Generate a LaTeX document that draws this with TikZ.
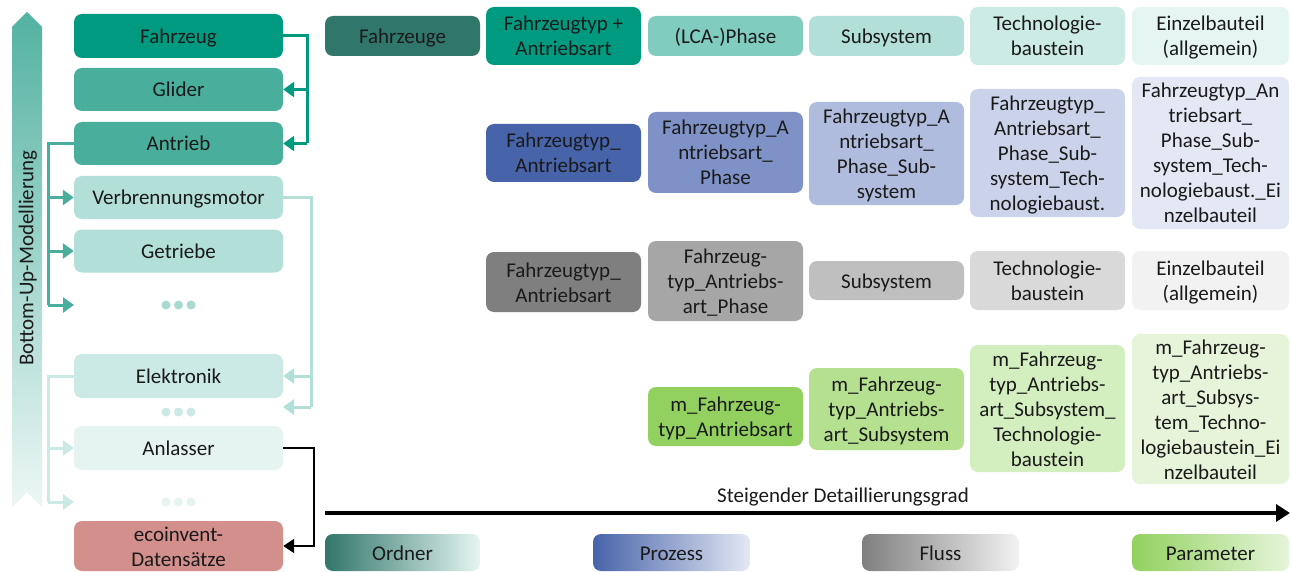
\documentclass[tikz,border=0pt]{standalone}
\usepackage{fontspec}
\setmainfont{Carlito}
\usetikzlibrary{arrows.meta}
\definecolor{cFz}{HTML}{009A80}
\definecolor{cGl}{HTML}{4AAE9C}
\definecolor{cVb}{HTML}{B2DFD7}
\definecolor{cEl}{HTML}{CCEAE5}
\definecolor{cAn}{HTML}{E5F4F1}
\definecolor{cEco}{HTML}{D28F8C}
\definecolor{oA}{HTML}{31766A}
\definecolor{oB}{HTML}{009A80}
\definecolor{oC}{HTML}{80CCBF}
\definecolor{oD}{HTML}{B2E0D8}
\definecolor{oE}{HTML}{CCEBE5}
\definecolor{oF}{HTML}{E5F5F2}
\definecolor{pB}{HTML}{4763A9}
\definecolor{pC}{HTML}{7F92C7}
\definecolor{pD}{HTML}{B0BCDD}
\definecolor{pE}{HTML}{CBD3EA}
\definecolor{pF}{HTML}{E4E8F4}
\definecolor{fB}{HTML}{7F7F7F}
\definecolor{fC}{HTML}{A6A6A6}
\definecolor{fD}{HTML}{BFBFBF}
\definecolor{fE}{HTML}{D9D9D9}
\definecolor{fF}{HTML}{F2F2F2}
\definecolor{mC}{HTML}{92D15F}
\definecolor{mD}{HTML}{B5E08F}
\definecolor{mE}{HTML}{D3EEBF}
\definecolor{mF}{HTML}{E6F5DA}
\definecolor{txt}{HTML}{1A1A1A}
\newcommand\bt[1]{\raisebox{-2.5pt}[\height][\depth]{\def\arraystretch{1}\begin{tabular}{@{}c@{}}#1\end{tabular}}}
\tikzset{
  box/.style={rectangle, rounded corners=8pt, draw=none, inner sep=0pt,
    text=txt, font=\fontsize{21}{25}\selectfont, minimum width=155pt},
  lbox/.style={box, minimum width=209pt},
  conn/.style={line width=3pt},
  tip/.style={-{Triangle[length=11pt,width=15pt]}},
  dotc/.style={circle, inner sep=0pt, minimum size=9pt},
}
\begin{document}
\begin{tikzpicture}[x=1pt,y=-1pt]
\useasboundingbox (0,0) rectangle (1292,572);
% vertical band
\shade[top color=cGl!95, bottom color=cAn!70] (12,27) -- (27,12) -- (42,27) -- (42,507) -- (27,492) -- (12,507) -- cycle;
\node[rotate=90, text=txt, font=\fontsize{21}{25}\selectfont] (bu) at (28,258) {Bottom-Up-Modellierung};
% left column
\node[lbox, fill=cFz, minimum height=44pt] (fz) at (178.5,36) {\bt{Fahrzeug}};
\node[lbox, fill=cGl, minimum height=43pt] (gl) at (178.5,89.5) {\bt{Glider}};
\node[lbox, fill=cGl, minimum height=43pt] (an) at (178.5,143.5) {\bt{Antrieb}};
\node[lbox, fill=cVb, minimum height=43pt] (vb) at (178.5,197.5) {\bt{Verbrennungsmotor}};
\node[lbox, fill=cVb, minimum height=43pt] (gt) at (178.5,251) {\bt{Getriebe}};
\node[lbox, fill=cEl, minimum height=44pt] (el) at (178.5,376) {\bt{Elektronik}};
\node[lbox, fill=cAn, minimum height=44pt] (al) at (178.5,448) {\bt{Anlasser}};
\node[lbox, fill=cEco, minimum height=44pt] (eco) at (178.5,546) {\bt{ecoinvent-\\Datensätze}};
% dots
\foreach \x in {166,178.5,191}{
  \node[dotc, fill=cVb!90!cGl] at (\x,305) {};
  \node[dotc, fill=cEl] at (\x,412) {};
  \node[dotc, fill=cAn] at (\x,502) {};
}
\coordinate (d1) at (74,305);
\coordinate (d2) at (283,407);
\coordinate (d3) at (74,502);
\coordinate (j1) at (307,0);
\coordinate (j2) at (48,0);
\coordinate (j3) at (311,0);
\coordinate (j4) at (48,0);
\coordinate (j5) at (314,0);
% connectors
\draw[conn, cFz] (fz.east) -| (j1 |- an.east);
\draw[conn, cFz, tip] (j1 |- gl.east) -- (gl.east);
\draw[conn, cFz, tip] (j1 |- an.east) -- (an.east);
\draw[conn, cGl] (an.west) -| (j2 |- d1);
\draw[conn, cGl, tip] (j2 |- vb.west) -- (vb.west);
\draw[conn, cGl, tip] (j2 |- gt.west) -- (gt.west);
\draw[conn, cGl, tip] (j2 |- d1) -- (d1);
\draw[conn, cVb] (vb.east) -| (j3 |- d2);
\draw[conn, cVb, tip] (j3 |- el.east) -- (el.east);
\draw[conn, cVb, tip] (j3 |- d2) -- (d2);
\draw[conn, cEl] (el.west) -| (j4 |- d3);
\draw[conn, cEl, tip] (j4 |- al.west) -- (al.west);
\draw[conn, cEl, tip] (j4 |- d3) -- (d3);
\draw[line width=2pt, black, -{Triangle[length=11pt,width=14pt]}] (al.east) -| (j5 |- eco.east) -- (eco.east);
% row 1 Ordner
\node[box, fill=oA, minimum height=40pt] (o1) at (402.5,36) {\bt{Fahrzeuge}};
\node[box, fill=oB, minimum height=58pt] (o2) at (563.5,36) {\bt{Fahrzeugtyp +\\Antriebsart}};
\node[box, fill=oC, minimum height=40pt] (o3) at (725.5,36) {\bt{(LCA-)Phase}};
\node[box, fill=oD, minimum height=40pt] (o4) at (886.5,36) {\bt{Subsystem}};
\node[box, fill=oE, minimum height=58pt] (o5) at (1047.5,36) {\bt{Technologie-\\baustein}};
\node[box, fill=oF, minimum height=58pt, minimum width=157pt] (o6) at (1210.5,36) {\bt{Einzelbauteil\\(allgemein)}};
% row 2 Prozess
\node[box, fill=pB, minimum height=58pt] (p2) at (563.5,153) {\bt{Fahrzeugtyp\_\\Antriebsart}};
\node[box, fill=pC, minimum height=81pt] (p3) at (725.5,152.5) {\bt{Fahrzeugtyp\_A\\ntriebsart\_\\Phase}};
\node[box, fill=pD, minimum height=103pt] (p4) at (886.5,153.5) {\bt{Fahrzeugtyp\_A\\ntriebsart\_\\Phase\_Sub-\\system}};
\node[box, fill=pE, minimum height=128pt] (p5) at (1047.5,153) {\bt{Fahrzeugtyp\_\\Antriebsart\_\\Phase\_Sub-\\system\_Tech-\\nologiebaust.}};
\node[box, fill=pF, minimum height=152pt, minimum width=157pt] (p6) at (1210.5,153) {\bt{Fahrzeugtyp\_An\\triebsart\_\\Phase\_Sub-\\system\_Tech-\\nologiebaust.\_Ei\\nzelbauteil}};
% row 3 Fluss
\node[box, fill=fB, minimum height=60pt] (f2) at (563.5,282) {\bt{Fahrzeugtyp\_\\Antriebsart}};
\node[box, fill=fC, minimum height=80pt] (f3) at (725.5,281) {\bt{Fahrzeug-\\typ\_Antriebs-\\art\_Phase}};
\node[box, fill=fD, minimum height=39pt] (f4) at (886.5,280.5) {\bt{Subsystem}};
\node[box, fill=fE, minimum height=59pt] (f5) at (1047.5,280.5) {\bt{Technologie-\\baustein}};
\node[box, fill=fF, minimum height=59pt, minimum width=157pt] (f6) at (1210.5,280.5) {\bt{Einzelbauteil\\(allgemein)}};
% row 4 Parameter
\node[box, fill=mC, minimum height=59pt] (m3) at (725.5,416.5) {\bt{m\_Fahrzeug-\\typ\_Antriebsart}};
\node[box, fill=mD, minimum height=82pt] (m4) at (886.5,409) {\bt{m\_Fahrzeug-\\typ\_Antriebs-\\art\_Subsystem}};
\node[box, fill=mE, minimum height=127pt] (m5) at (1047.5,408.5) {\bt{m\_Fahrzeug-\\typ\_Antriebs-\\art\_Subsystem\_\\Technologie-\\baustein}};
\node[box, fill=mF, minimum height=150pt, minimum width=157pt] (m6) at (1210.5,409) {\bt{m\_Fahrzeug-\\typ\_Antriebs-\\art\_Subsys-\\tem\_Techno-\\logiebaustein\_Ei\\nzelbauteil}};
% detail arrow
\coordinate (aS) at (325,513);
\coordinate (aE) at (1290,513);
\draw[line width=4pt, black, -{Triangle[length=14pt,width=17pt]}] (aS) -- (aE);
\node[text=txt, font=\fontsize{21}{25}\selectfont, inner sep=0pt] (dg) at (843,495) {\bt{Steigender Detaillierungsgrad}};
% legend
\node[box, left color=oA, right color=oF, minimum height=37pt] (lo) at (402.5,552.5) {\bt{Ordner}};
\node[box, left color=pB, right color=pF, minimum height=37pt, minimum width=157pt] (lp) at (671.5,552.5) {\bt{Prozess}};
\node[box, left color=fB, right color=fF, minimum height=37pt, minimum width=157pt] (lf) at (940.5,552.5) {\bt{Fluss}};
\node[box, left color=mC, right color=mF, minimum height=37pt, minimum width=157pt] (lm) at (1210.5,552.5) {\bt{Parameter}};
\end{tikzpicture}
\end{document}
